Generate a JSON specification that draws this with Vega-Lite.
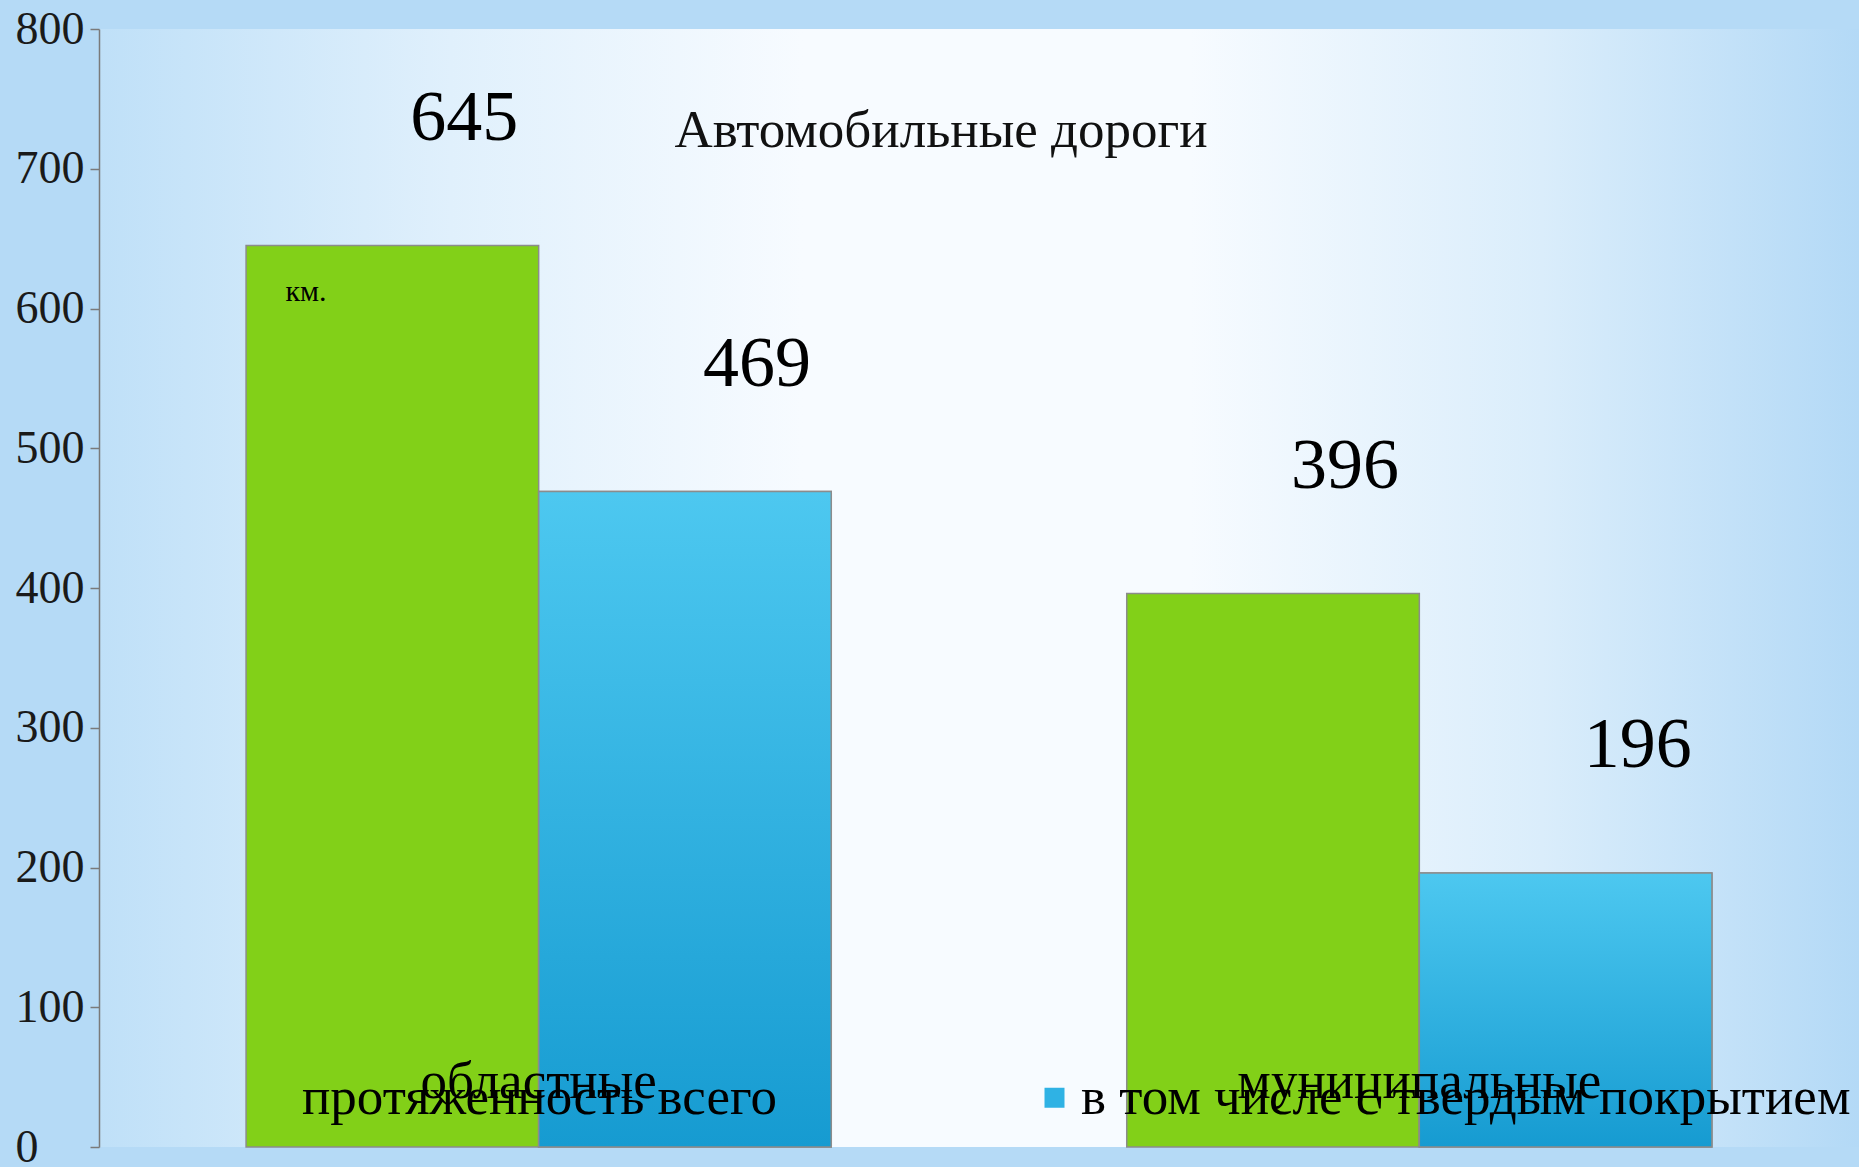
{
  "$schema": "https://vega.github.io/schema/vega-lite/v6.json",
  "width": 1760,
  "height": 1118,
  "autosize": {"type": "none"},
  "padding": {"left": 99, "top": 29, "right": 0, "bottom": 20},
  "background": "#b5daf6",
  "config": {
    "font": "Liberation Serif",
    "view": {
      "stroke": null,
      "fill": {
        "gradient": "linear", "x1": 0, "y1": 0, "x2": 1, "y2": 0,
        "stops": [
          {"offset": 0, "color": "#bfe0f8"},
          {"offset": 0.2, "color": "#e0f0fc"},
          {"offset": 0.4, "color": "#f7fbff"},
          {"offset": 0.62, "color": "#f7fbff"},
          {"offset": 0.82, "color": "#daedfb"},
          {"offset": 1, "color": "#b3d9f6"}
        ]
      }
    }
  },
  "title": {
    "text": "Автомобильные дороги",
    "font": "Liberation Serif",
    "fontSize": 53,
    "fontWeight": "normal",
    "color": "#111111",
    "anchor": "middle",
    "frame": "group",
    "orient": "top",
    "baseline": "alphabetic",
    "offset": -194,
    "dx": -38
  },
  "data": {
    "values": [
      {"category": "областные", "series": "протяженность всего", "value": 645},
      {"category": "областные", "series": "в том числе с твердым покрытием", "value": 469},
      {"category": "муниципальные", "series": "протяженность всего", "value": 396},
      {"category": "муниципальные", "series": "в том числе с твердым покрытием", "value": 196}
    ]
  },
  "encoding": {
    "x": {
      "field": "category",
      "type": "nominal",
      "scale": {"domain": ["областные", "муниципальные"], "paddingInner": 0.3355, "paddingOuter": 0.167},
      "axis": {
        "title": null,
        "zindex": 2,
        "domain": false,
        "ticks": false,
        "tickSize": 0,
        "labelAngle": 0,
        "labelBaseline": "alphabetic",
        "labelPadding": -50,
        "labelFontSize": 53,
        "labelLimit": 1000,
        "labelOverlap": false,
        "labelColor": "#000000",
        "labelFont": "Liberation Serif"
      }
    },
    "xOffset": {
      "field": "series",
      "type": "nominal",
      "scale": {"domain": ["протяженность всего", "в том числе с твердым покрытием"]}
    },
    "y": {
      "field": "value",
      "type": "quantitative",
      "scale": {"domain": [0, 800], "nice": false},
      "axis": {
        "zindex": 2,
        "title": "км.",
        "titleAngle": 0,
        "titleAlign": "left",
        "titleBaseline": "alphabetic",
        "titleX": 186,
        "titleY": 271,
        "titleFontSize": 30,
        "titleFontWeight": "normal",
        "titleColor": "#000000",
        "titleFont": "Liberation Serif",
        "values": [0, 100, 200, 300, 400, 500, 600, 700, 800],
        "grid": false,
        "labelAlign": "left",
        "labelBaseline": "middle",
        "labelPadding": 75,
        "labelFontSize": 46,
        "labelColor": "#1a1a1a",
        "labelFont": "Liberation Serif",
        "labelFlush": false,
        "labelOverlap": false,
        "tickSize": 9,
        "tickColor": "#7a7a7a",
        "tickWidth": 1.5,
        "domainColor": "#7a7a7a",
        "domainWidth": 1.5
      }
    }
  },
  "layer": [
    {
      "mark": {"type": "bar", "stroke": "#8c8c8c", "strokeWidth": 1.5},
      "encoding": {
        "color": {
          "field": "series",
          "type": "nominal",
          "scale": {"domain": ["протяженность всего", "в том числе с твердым покрытием"], "range": ["#82d018", "#2fb2e4"]},
          "legend": {
            "title": null,
            "zindex": 3,
            "orient": "none",
            "direction": "horizontal",
            "legendX": 150,
            "legendY": 1042,
            "padding": 0,
            "symbolType": "square",
            "symbolSize": 400,
            "symbolStrokeWidth": 0,
            "symbolOpacity": 1,
            "labelFontSize": 53,
            "labelFont": "Liberation Serif",
            "labelColor": "#000000",
            "labelOffset": 0,
            "labelLimit": 2000,
            "columnPadding": 251
          }
        }
      }
    },
    {
      "transform": [{"filter": "datum.series === 'в том числе с твердым покрытием'"}],
      "mark": {
        "type": "bar",
        "stroke": "#8c8c8c",
        "strokeWidth": 1.5,
        "fill": {
          "gradient": "linear", "x1": 0, "y1": 0, "x2": 0, "y2": 1,
          "stops": [
            {"offset": 0, "color": "#4dc8f0"},
            {"offset": 1, "color": "#169bd1"}
          ]
        }
      }
    },
    {
      "mark": {"type": "text", "fontSize": 72, "font": "Liberation Serif", "baseline": "alphabetic", "align": "center", "dx": 72, "dy": -106, "color": "#000000"},
      "encoding": {"text": {"field": "value", "type": "quantitative"}}
    }
  ]
}
